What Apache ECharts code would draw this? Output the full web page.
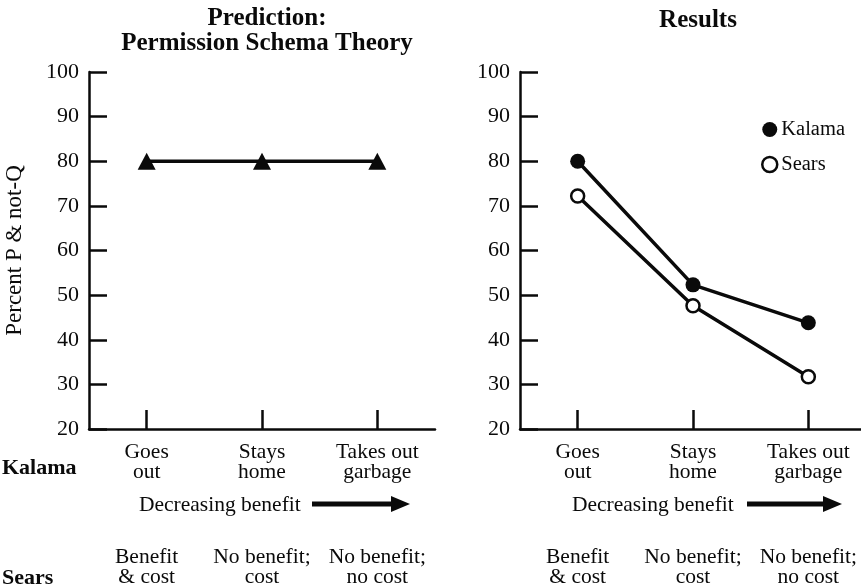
<!DOCTYPE html>
<html>
<head>
<meta charset="utf-8">
<script src="https://cdn.jsdelivr.net/npm/echarts@6/dist/echarts.min.js"></script>
<style>html,body{margin:0;padding:0;background:#fff;}#c{width:861px;height:587px;}</style>
</head>
<body>
<div id="c"></div>
<script>
const kalamaCategories = ['Goes\nout', 'Stays\nhome', 'Takes out\ngarbage'];
const searsCategories = ['Benefit\n& cost', 'No benefit;\ncost', 'No benefit;\nno cost'];
const predictionValues = [80, 80, 80];
const kalamaValues = [80, 52.3, 43.8];
const searsValues = [72.2, 47.6, 31.7];
const yMin = 20, yMax = 100, yInterval = 10;

const FONT = 'Liberation Serif';
const INK = '#0a0a0a';
const chart = echarts.init(document.getElementById('c'), null, {renderer: 'canvas'});

function yAxisCfg(gi, withName) {
  return {
    type: 'value', gridIndex: gi, min: yMin, max: yMax, interval: yInterval,
    name: withName ? 'Percent P & not-Q' : '', nameLocation: 'middle', nameGap: 63, nameRotate: 90,
    nameTextStyle: {fontFamily: FONT, fontSize: 23, color: INK},
    axisLine: {show: true, lineStyle: {color: INK, width: 2.5}},
    axisTick: {show: true, inside: true, length: 18, lineStyle: {color: INK, width: 2.5}},
    axisLabel: {fontFamily: FONT, fontSize: 22, color: INK, margin: 10},
    splitLine: {show: false}
  };
}
function xMain(gi) {
  return {
    type: 'category', gridIndex: gi, data: kalamaCategories, boundaryGap: true,
    axisLine: {show: true, lineStyle: {color: INK, width: 2.5}},
    axisTick: {show: true, inside: true, length: 19, alignWithLabel: true, lineStyle: {color: INK, width: 2.5}},
    axisLabel: {fontFamily: FONT, fontSize: 21.5, color: INK, margin: 13, lineHeight: 20, interval: 0},
    splitLine: {show: false}
  };
}
function xSears(gi) {
  return {
    type: 'category', gridIndex: gi, data: searsCategories, boundaryGap: true, position: 'bottom', offset: 106,
    axisLine: {show: false}, axisTick: {show: false},
    axisLabel: {fontFamily: FONT, fontSize: 21.5, color: INK, margin: 12, lineHeight: 20, interval: 0},
    splitLine: {show: false}
  };
}
function arrow(x0, x1, y) {
  return [
    {type: 'rect', shape: {x: x0, y: y - 2.5, width: x1 - x0 - 16, height: 5}, style: {fill: INK}},
    {type: 'polygon', shape: {points: [[x1 - 19, y - 8], [x1, y], [x1 - 19, y + 8]]}, style: {fill: INK}}
  ];
}
function txt(x, y, text, opts) {
  return Object.assign({type: 'text', x: x, y: y,
    style: Object.assign({text: text, fontFamily: FONT, fontSize: 21.5, fill: INK, verticalAlign: 'middle'}, opts || {})});
}

const option = {
  backgroundColor: '#fff',
  animation: false,
  title: [
    {text: 'Prediction:\nPermission Schema Theory', left: 262, top: 1, textAlign: 'center',
      textStyle: {fontFamily: FONT, fontWeight: 'bold', fontSize: 25, lineHeight: 25, color: INK}},
    {text: 'Results', left: 693, top: 3, textAlign: 'center',
      textStyle: {fontFamily: FONT, fontWeight: 'bold', fontSize: 25, lineHeight: 25, color: INK}}
  ],
  legend: {
    left: 756, top: 114, orient: 'vertical', itemGap: 14, itemWidth: 15, itemHeight: 15,
    data: [
      {name: 'Kalama', icon: 'circle', itemStyle: {color: INK, borderColor: INK, borderWidth: 0}},
      {name: 'Sears', icon: 'circle', itemStyle: {color: '#fff', borderColor: INK, borderWidth: 2.5}}
    ],
    textStyle: {fontFamily: FONT, fontSize: 20.5, color: INK, padding: [0, 0, 0, -1]}
  },
  grid: [
    {left: 89, top: 72, width: 346, height: 357, outerBoundsMode: 'none', containLabel: false},
    {left: 520, top: 72, width: 346, height: 357, outerBoundsMode: 'none', containLabel: false}
  ],
  xAxis: [xMain(0), xSears(0), xMain(1), xSears(1)],
  yAxis: [yAxisCfg(0, true), yAxisCfg(1, false)],
  series: [
    {name: 'Prediction', type: 'line', xAxisIndex: 0, yAxisIndex: 0, data: predictionValues,
      symbol: 'triangle', symbolSize: [18, 17], lineStyle: {color: INK, width: 3.5},
      itemStyle: {color: INK}},
    {name: 'Kalama', type: 'line', xAxisIndex: 2, yAxisIndex: 1, data: kalamaValues,
      symbol: 'circle', symbolSize: 15, lineStyle: {color: INK, width: 3.5},
      itemStyle: {color: INK, borderColor: INK, borderWidth: 0}},
    {name: 'Sears', type: 'line', xAxisIndex: 2, yAxisIndex: 1, data: searsValues,
      symbol: 'circle', symbolSize: 13, showAllSymbol: true, lineStyle: {color: INK, width: 3.5},
      itemStyle: {color: '#fff', borderColor: INK, borderWidth: 2.5}, z: 3}
  ],
  graphic: [
    txt(2, 468, 'Kalama', {fontWeight: 'bold', fontSize: 22}),
    txt(2, 578, 'Sears', {fontWeight: 'bold', fontSize: 22}),
    txt(139, 505, 'Decreasing benefit'),
    txt(572, 505, 'Decreasing benefit')
  ].concat(arrow(312, 410, 504), arrow(747, 842, 504))
};
chart.setOption(option);
</script>
</body>
</html>
